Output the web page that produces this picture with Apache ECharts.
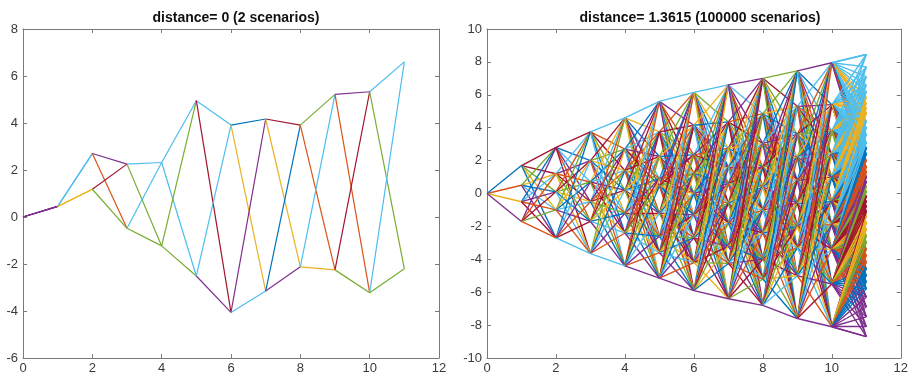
<!DOCTYPE html>
<html><head><meta charset="utf-8">
<script src="https://cdn.jsdelivr.net/npm/echarts@6/dist/echarts.min.js"></script>
<style>html,body{margin:0;padding:0;background:#fff}#c{width:911px;height:379px}</style>
</head><body><div id="c"></div>
<script>
// ---------- data ----------
const leftTitle = 'distance= 0 (2 scenarios)';
const rightTitle = 'distance= 1.3615 (100000 scenarios)';
const steps = [0,1,2,3,4,5,6,7,8,9,10,11];
const leftUpper = [0, 0.45, 2.7, 2.25, 2.32, 4.95, 3.91, 4.17, 3.91, 5.22, 5.33, 6.6];
const leftLower = [0, 0.45, 1.18, -0.48, -1.23, -2.51, -4.06, -3.15, -2.12, -2.25, -3.22, -2.2];
// right chart: node values at t = 0..10
const rightNodes = [
  [0],
  [1.7, 0.5, -0.5, -1.7],
  [2.8, 1.2, 0.1, -1.0, -2.7],
  [3.75, 2.0, 0.7, -0.5, -1.7, -3.65],
  [4.6, 2.7, 1.4, 0.2, -1.2, -2.4, -4.4],
  [5.6, 3.75, 2.25, 0.9, 0.45, -1.2, -2.6, -3.6, -5.15],
  [6.15, 4.15, 2.35, 1.2, 0.0, -1.3, -2.7, -4.2, -5.9],
  [6.6, 4.35, 2.75, 1.6, 0.6, -0.6, -1.8, -3.2, -4.25, -6.4],
  [7.0, 4.85, 3.05, 1.6, 0.4, -1.0, -2.4, -4.0, -5.2, -6.8],
  [7.45, 5.3, 3.6, 2.2, 0.8, -0.6, -2.0, -3.3, -5.0, -7.6],
  [7.95, 5.4, 3.8, 2.4, 1.0, -0.5, -1.9, -3.4, -5.5, -8.1]
];
// right chart: scenario end values at t = 11
const rightEnd = [8.45, 7.7, 7.1, 6.6, 6.2, 5.85, 5.5, 5.2, 4.9, 4.4, 4.0, 3.6, 3.1, 2.75, 2.4,
  2.0, 1.6, 1.3, 1.0, 0.7, 0.4, 0.1, -0.2, -0.5, -0.8, -1.1, -1.4, -1.8, -2.2, -2.6, -3.0,
  -3.4, -3.8, -4.2, -4.6, -5.0, -5.4, -5.8, -6.3, -6.9, -7.5, -8.1, -8.7];
// largest gap between a node at t = 10 and an end value it links to (read from the fans)
const lastFanReach = 7;
const xTicks = [0, 12, 2];
const leftYTicks = [-6, 8, 2];
const rightYTicks = [-10, 10, 2];

// ---------- styles ----------
const PAL = {B:'#0072BD',O:'#D95319',Y:'#EDB120',P:'#7E2F8E',G:'#77AC30',C:'#4DBEEE',R:'#A2142F'};
const ORDER = ['B','O','Y','P','G','C','R'];
// per step: upper->upper, upper->lower, lower->upper, lower->lower
const leftEdgeColors = ['PPPP','CYCY','PORG','CGCG','CCGG','CRCP','BYPC','RYBP','GOCY','PORG','CGCG'];
const endColors = 'CCCCCYYYYCCCCBBOOOPPGGRRRRYYYGGOOOBBBBPPPPP';
const topEdgeColors = 'BRRCCCCPGPC';
const bottomEdgeColors = 'POCCPPPPPPP';

// ---------- build segments ----------
const leftSegs = [];
for (let s = 0; s < steps.length - 1; s++) {
  const a = [leftUpper[s], leftLower[s]], b = [leftUpper[s+1], leftLower[s+1]];
  let k = 0;
  for (let i = 0; i < 2; i++) for (let j = 0; j < 2; j++) {
    leftSegs.push({coords: [[steps[s], a[i]], [steps[s+1], b[j]]],
      lineStyle: {color: PAL[leftEdgeColors[s][k++]]}});
  }
}
const rightSegs = [];
const allNodes = rightNodes.concat([rightEnd]);
for (let s = 0; s < rightNodes.length - 1; s++) {
  const A = rightNodes[s], Bn = rightNodes[s+1];
  for (let i = 0; i < A.length; i++) for (let j = 0; j < Bn.length; j++) {
    if ((i === 0 && j === 0) || (i === A.length - 1 && j === Bn.length - 1)) continue;
    const c = s === 0 ? ORDER[j] : ORDER[(i * 3 + j * 5 + s) % 7];
    rightSegs.push({coords: [[steps[s], A[i]], [steps[s+1], Bn[j]]],
      lineStyle: {color: PAL[c]}});
  }
}
const last = rightNodes[rightNodes.length - 1];
for (let i = 0; i < last.length; i++) for (let j = 0; j < rightEnd.length; j++) {
  if (Math.abs(last[i] - rightEnd[j]) > lastFanReach) continue;
  rightSegs.push({coords: [[steps[10], last[i]], [steps[11], rightEnd[j]]],
    lineStyle: {color: PAL[endColors[j]]}});
}
// outer envelope (top-to-top and bottom-to-bottom) drawn last
for (let s = 0; s < allNodes.length - 1; s++) {
  const A = allNodes[s], Bn = allNodes[s+1];
  rightSegs.push({coords: [[steps[s], A[0]], [steps[s+1], Bn[0]]],
    lineStyle: {color: PAL[topEdgeColors[s]]}});
  rightSegs.push({coords: [[steps[s], A[A.length-1]], [steps[s+1], Bn[Bn.length-1]]],
    lineStyle: {color: PAL[bottomEdgeColors[s]]}});
}

// ---------- axes ----------
const AX = '#7a7a7a', TXT = '#3a3a3a', FONT = 'Liberation Sans, Arial, sans-serif';
function xAx(grid, pos, lab) {
  return {type:'value', gridIndex:grid, position:pos, min:xTicks[0], max:xTicks[1], interval:xTicks[2],
    axisLine:{show:true, onZero:false, lineStyle:{color:AX, width:1}},
    axisTick:{show:true, inside:true, length:4, lineStyle:{color:AX}},
    axisLabel:{show:lab, color:TXT, fontSize:13, fontFamily:FONT, margin:4},
    splitLine:{show:false}};
}
function yAx(grid, pos, lab, t) {
  return {type:'value', gridIndex:grid, position:pos, min:t[0], max:t[1], interval:t[2],
    axisLine:{show:true, onZero:false, lineStyle:{color:AX, width:1}},
    axisTick:{show:true, inside:true, length:4, lineStyle:{color:AX}},
    axisLabel:{show:lab, color:TXT, fontSize:13, fontFamily:FONT, margin:5},
    splitLine:{show:false}};
}

const chart = echarts.init(document.getElementById('c'), null, {renderer:'canvas'});
chart.setOption({
  animation:false,
  backgroundColor:'#fff',
  title:[
    {text:leftTitle, left:231, top:6, textAlign:'center',
      textStyle:{fontSize:14, fontWeight:'bold', color:'#111', fontFamily:FONT}},
    {text:rightTitle, left:695, top:6, textAlign:'center',
      textStyle:{fontSize:14, fontWeight:'bold', color:'#111', fontFamily:FONT}}
  ],
  grid:[
    {left:23, top:29, width:416, height:329},
    {left:487, top:29, width:416, height:329}
  ],
  xAxis:[xAx(0,'bottom',true), xAx(0,'top',false), xAx(1,'bottom',true), xAx(1,'top',false)],
  yAxis:[yAx(0,'left',true,leftYTicks), yAx(0,'right',false,leftYTicks),
         yAx(1,'left',true,rightYTicks), yAx(1,'right',false,rightYTicks)],
  series:[
    {type:'lines', coordinateSystem:'cartesian2d', xAxisIndex:0, yAxisIndex:0, silent:true,
      lineStyle:{width:1.2, opacity:1}, data:leftSegs},
    {type:'lines', coordinateSystem:'cartesian2d', xAxisIndex:2, yAxisIndex:2, silent:true,
      lineStyle:{width:1.35, opacity:1}, data:rightSegs}
  ]
});
</script></body></html>
